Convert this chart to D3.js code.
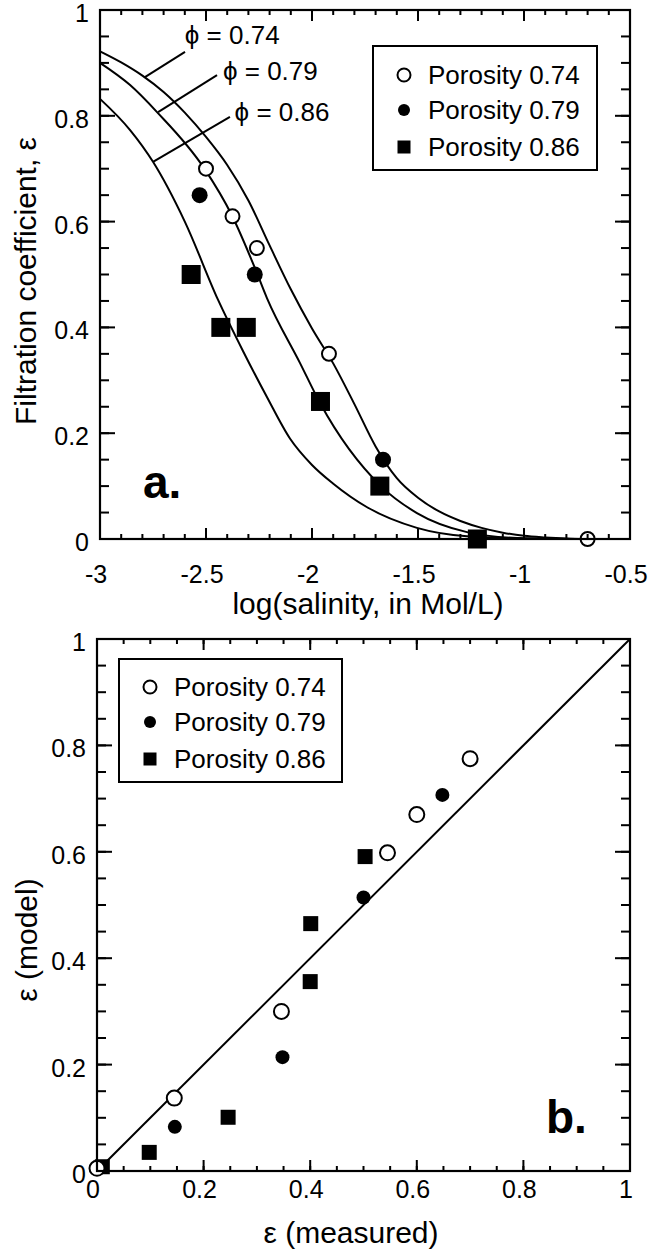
<!DOCTYPE html>
<meta charset="utf-8" />
<script src="https://d3js.org/d3.v7.min.js"></script>
<style>
  body { margin: 0; background: #fff; }
  text { font-family: "Liberation Sans", Arial, Helvetica, sans-serif; fill: #000; }
</style>
<div id="chart"></div>
<script>
// ---- panel a: model curves ([log salinity, epsilon])
var curve074 = [[-3, 0.922], [-2.9, 0.901], [-2.8, 0.876], [-2.7, 0.845], [-2.6, 0.806], [-2.5, 0.76],
  [-2.4, 0.707], [-2.3, 0.64], [-2.2, 0.555], [-2.1, 0.472], [-2.0, 0.398], [-1.9, 0.332], [-1.8, 0.255],
  [-1.7, 0.175], [-1.6, 0.115], [-1.5, 0.078], [-1.4, 0.052], [-1.3, 0.034], [-1.2, 0.021], [-1.1, 0.012],
  [-1.0, 0.006], [-0.9, 0.003], [-0.8, 0.001], [-0.7, 0]];
var curve079 = [[-3, 0.9], [-2.858, 0.858], [-2.731, 0.807], [-2.509, 0.701], [-2.377, 0.611], [-2.269, 0.512],
  [-2.212, 0.455], [-2.057, 0.333], [-1.962, 0.257], [-1.675, 0.1], [-1.505, 0.049], [-1.269, 0.013],
  [-1.033, 0.002], [-0.7, 0]];
var curve086 = [[-3, 0.832], [-2.858, 0.773], [-2.75, 0.713], [-2.6, 0.6], [-2.443, 0.452], [-2.325, 0.355],
  [-2.212, 0.268], [-2.104, 0.19], [-2.0, 0.14], [-1.901, 0.105], [-1.74, 0.06], [-1.505, 0.021],
  [-1.269, 0.005], [-1.0, 0.001], [-0.8, 0]];

// measured points, panel a
var aOpenX = [-2.5, -2.375, -2.26, -1.92, -0.7];
var aOpenY = [0.70, 0.61, 0.55, 0.35, 0];
var aFillX = [-2.53, -2.27, -1.665];
var aFillY = [0.65, 0.50, 0.15];
var aSqX = [-2.57, -2.43, -2.31, -1.96, -1.68, -1.22];
var aSqY = [0.50, 0.40, 0.40, 0.26, 0.10, 0];

// panel b: measured vs model
var bOpenX = [0.70, 0.60, 0.545, 0.346, 0.145, 0.0];
var bOpenY = [0.775, 0.67, 0.598, 0.30, 0.137, 0.005];
var bFillX = [0.648, 0.50, 0.348, 0.146];
var bFillY = [0.707, 0.514, 0.214, 0.083];
var bSqX = [0.503, 0.401, 0.40, 0.246, 0.098, 0.01];
var bSqY = [0.591, 0.465, 0.356, 0.101, 0.035, 0.008];

var aXTicks = [-3, -2.5, -2, -1.5, -1, -0.5];
var aYTicks = [0, 0.2, 0.4, 0.6, 0.8, 1];
var bTicks = [0, 0.2, 0.4, 0.6, 0.8, 1];

var legendNames = ["Porosity 0.74", "Porosity 0.79", "Porosity 0.86"];
var curveNames = ["\u03D5 = 0.74", "\u03D5 = 0.79", "\u03D5 = 0.86"];
// leader lines for the curve names: [label x, label y, line start x, y, line end x, y] in data units
var leaders = [[-2.6, 0.935, -2.599, 0.921, -2.788, 0.873],
  [-2.42, 0.868, -2.448, 0.877, -2.726, 0.807],
  [-2.365, 0.79, -2.387, 0.798, -2.75, 0.713]];

var svg = d3.select("#chart").append("svg").attr("width", 649).attr("height", 1258);

function zip(xs, ys) { return xs.map(function (d, i) { return [d, ys[i]]; }); }

// box plus tick labels
function frame(g, x, y, w, h, o) {
  g.append("rect").attr("width", w).attr("height", h)
    .attr("fill", "none").attr("stroke", "#000").attr("stroke-width", 2.2);
  g.selectAll(null).data(o.xTicks).join("text")
    .attr("x", function (d) { return x(d) - 4; }).attr("y", h + o.xPad)
    .attr("text-anchor", "middle").attr("font-size", 25).text(function (d) { return String(d); });
  g.selectAll(null).data(o.yTicks).join("text")
    .attr("x", -o.yPad).attr("y", function (d) { return y(d) + 12; })
    .attr("text-anchor", "end").attr("font-size", 25).text(function (d) { return String(d); });
}

// inward ticks on all four sides, as small filled bars
function ticks(g, x, y, w, h, o) {
  var t = g.append("g").attr("fill", "#000");
  [[o.xMinor, 5], [o.xTicks, 11]].forEach(function (s) {
    t.selectAll(null).data(s[0]).join("rect")
      .attr("x", function (d) { return x(d) - 1; }).attr("y", h - s[1])
      .attr("width", 2).attr("height", s[1]);
    t.selectAll(null).data(s[0]).join("rect")
      .attr("x", function (d) { return x(d) - 1; }).attr("y", 0)
      .attr("width", 2).attr("height", s[1]);
  });
  [[o.yMinor, 9], [o.yTicks, 15]].forEach(function (s) {
    t.selectAll(null).data(s[0]).join("rect")
      .attr("y", function (d) { return y(d) - 1; }).attr("x", 0)
      .attr("height", 2).attr("width", s[1]);
    t.selectAll(null).data(s[0]).join("rect")
      .attr("y", function (d) { return y(d) - 1; }).attr("x", w - s[1])
      .attr("height", 2).attr("width", s[1]);
  });
}

function marks(g, x, y, pts, kind, size) {
  pts.forEach(function (p) {
    if (kind == "square") {
      g.append("rect").attr("x", x(p[0]) - size / 2).attr("y", y(p[1]) - size / 2)
        .attr("width", size).attr("height", size).attr("fill", "#000");
    } else {
      g.append("circle").attr("cx", x(p[0])).attr("cy", y(p[1])).attr("r", size)
        .attr("fill", kind == "open" ? "#fff" : "#000")
        .attr("stroke", "#000").attr("stroke-width", kind == "open" ? 2 : 0);
    }
  });
}

function legend(g, x0, y0, w, h, rows, sizes) {
  g.append("rect").attr("x", x0).attr("y", y0).attr("width", w).attr("height", h)
    .attr("fill", "#fff").attr("stroke", "#000").attr("stroke-width", 2);
  legendNames.forEach(function (n, i) {
    var cy = y0 + rows[i];
    var lx = x0 + 31;
    if (i == 2) {
      g.append("rect").attr("x", lx - sizes[2] / 2).attr("y", cy - sizes[2] / 2)
        .attr("width", sizes[2]).attr("height", sizes[2]).attr("fill", "#000");
    } else {
      g.append("circle").attr("cx", lx).attr("cy", cy).attr("r", sizes[i])
        .attr("fill", i == 0 ? "#fff" : "#000").attr("stroke", "#000")
        .attr("stroke-width", i == 0 ? 2 : 0);
    }
    g.append("text").attr("x", x0 + 55).attr("y", cy + 9).attr("font-size", 26).text(n);
  });
}

// ---------------- panel a
var wa = 530, ha = 529;
var ga = svg.append("g").attr("transform", "translate(100,10)");
var xa = d3.scaleLinear().domain([-3, -0.5]).range([0, wa]);
var ya = d3.scaleLinear().domain([0, 1]).range([ha, 0]);
var optsA = { xTicks: aXTicks, xMinor: xa.ticks(25), yTicks: aYTicks, yMinor: ya.ticks(20), xPad: 44, yPad: 11 };

var curveLine = d3.line().x(function (d) { return xa(d[0]); }).y(function (d) { return ya(d[1]); })
  .curve(d3.curveMonotoneX);
[curve074, curve079, curve086].forEach(function (c) {
  ga.append("path").attr("d", curveLine(c)).attr("fill", "none").attr("stroke", "#000").attr("stroke-width", 2);
});

leaders.forEach(function (l, i) {
  ga.append("line").attr("x1", xa(l[2])).attr("y1", ya(l[3])).attr("x2", xa(l[4])).attr("y2", ya(l[5]))
    .attr("stroke", "#000").attr("stroke-width", 2);
  ga.append("text").attr("x", xa(l[0])).attr("y", ya(l[1])).attr("font-size", 26).text(curveNames[i]);
});

marks(ga, xa, ya, zip(aSqX, aSqY), "square", 19);
marks(ga, xa, ya, zip(aFillX, aFillY), "fill", 8);
marks(ga, xa, ya, zip(aOpenX, aOpenY), "open", 7);

frame(ga, xa, ya, wa, ha, optsA);

legend(ga, 273, 36, 224, 124, [29, 64, 101], [6.5, 6, 13]);

ga.append("text").attr("x", 43).attr("y", 488).attr("font-size", 46).attr("font-weight", "bold").text("a.");

svg.append("text").attr("x", 368).attr("y", 614).attr("text-anchor", "middle").attr("font-size", 30)
  .text("log(salinity, in Mol/L)");
svg.append("text").attr("transform", "translate(36,281) rotate(-90)").attr("text-anchor", "middle")
  .attr("font-size", 30).text("Filtration coefficient, \u03B5");

// ---------------- panel b
var wb = 533, hb = 532;
var gb = svg.append("g").attr("transform", "translate(97,639)");
var xb = d3.scaleLinear().domain([0, 1]).range([0, wb]);
var yb = d3.scaleLinear().domain([0, 1]).range([hb, 0]);
var optsB = { xTicks: bTicks, xMinor: xb.ticks(20), yTicks: bTicks, yMinor: yb.ticks(20), xPad: 27, yPad: 11 };

gb.append("line").attr("x1", xb(0)).attr("y1", yb(0)).attr("x2", xb(1)).attr("y2", yb(1))
  .attr("stroke", "#000").attr("stroke-width", 2);

marks(gb, xb, yb, zip(bSqX, bSqY), "square", 15);
marks(gb, xb, yb, zip(bFillX, bFillY), "fill", 7);
marks(gb, xb, yb, zip(bOpenX, bOpenY), "open", 7.5);

frame(gb, xb, yb, wb, hb, optsB);

legend(gb, 22, 20, 223, 123, [28, 63, 100], [6.5, 6, 13]);

gb.append("text").attr("x", 449).attr("y", 494).attr("font-size", 46).attr("font-weight", "bold").text("b.");

svg.append("text").attr("x", 351).attr("y", 1243).attr("text-anchor", "middle").attr("font-size", 30)
  .text("\u03B5 (measured)");
svg.append("text").attr("transform", "translate(37,940) rotate(-90)").attr("text-anchor", "middle")
  .attr("font-size", 30).text("\u03B5 (model)");

// ticks last, in their own groups on top of everything
ticks(svg.append("g").attr("transform", "translate(100,10)"), xa, ya, wa, ha, optsA);
ticks(svg.append("g").attr("transform", "translate(97,639)"), xb, yb, wb, hb, optsB);
</script>
